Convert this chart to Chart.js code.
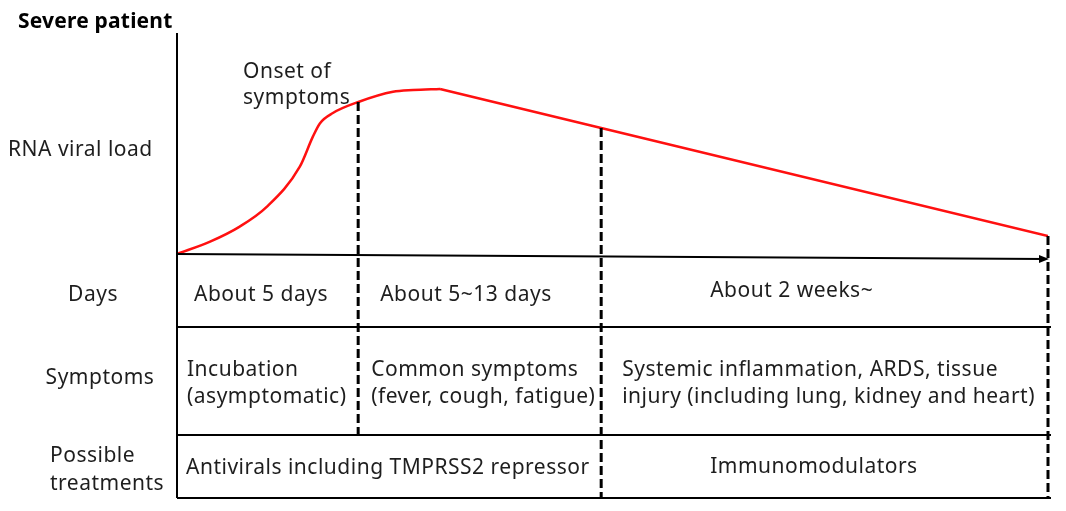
<!DOCTYPE html>
<html>
<head>
<meta charset="utf-8">
<script src="https://cdn.jsdelivr.net/npm/chart.js@4"></script>
<style>
html,body{margin:0;padding:0;background:#fff;}
#wrap{width:1066px;height:511px;}
</style>
</head>
<body>
<div id="wrap"><canvas id="c" width="1066" height="511"></canvas></div>
<script>
// ---- data ----
const chartTitle = "Severe patient";
const yLabel = "RNA viral load";
const onsetLabel = ["Onset of", "symptoms"];
// rising phase (smooth) up to the peak, then straight decline
const timePoints = [0, 3.8, 7.2, 10.3, 14.1, 15.6, 16.4, 17.9, 20.9, 24.8, 27.1, 30.2, 48.7, 100];
const viralLoad  = [0, 5.6, 12.4, 21.3, 39.5, 53.1, 59.1, 63.8, 68.9, 73.4, 74.2, 74.7, 57.0, 8.1];
const peakIndex = 11;
const phaseEnds = [20.8, 48.7, 100];
const rowLabels = [["Days"], ["Symptoms"], ["Possible", "treatments"]];
const dayTexts = [["About 5 days"], ["About 5~13 days"], ["About 2 weeks~"]];
const symptomTexts = [["Incubation", "(asymptomatic)"], ["Common symptoms", "(fever, cough, fatigue)"], ["Systemic inflammation, ARDS, tissue", "injury (including lung, kidney and heart)"]];
const treatmentTexts = [["Antivirals including TMPRSS2 repressor"], ["Immunomodulators"]];

const FONT = '"Noto Sans", "Open Sans", sans-serif';
const TXT = '#1e1e1e';

const diagramPlugin = {
  id: 'diagram',
  afterDatasetsDraw(chart) {
    const ctx = chart.ctx;
    const xs = chart.scales.x, ys = chart.scales.y;
    const left = xs.getPixelForValue(0);
    const right = xs.getPixelForValue(100);
    const top = ys.getPixelForValue(100);
    const base = ys.getPixelForValue(0);
    const rows = [base, 327, 435, 498];
    const bx = phaseEnds.map(v => xs.getPixelForValue(v));
    const interp = (v) => {
      for (let i = 1; i < timePoints.length; i++) {
        if (v <= timePoints[i]) {
          const t = (v - timePoints[i-1]) / (timePoints[i] - timePoints[i-1]);
          return viralLoad[i-1] + t * (viralLoad[i] - viralLoad[i-1]);
        }
      }
      return viralLoad[viralLoad.length-1];
    };
    ctx.save();
    // dashed phase lines
    ctx.strokeStyle = '#000';
    ctx.lineWidth = 3;
    ctx.setLineDash([9, 4]);
    const dashEnds = [rows[2], rows[3], rows[3]];
    bx.forEach((x, i) => {
      const y0 = ys.getPixelForValue(interp(phaseEnds[i]));
      ctx.beginPath();
      ctx.moveTo(x, y0);
      ctx.lineTo(x, dashEnds[i]);
      ctx.stroke();
    });
    ctx.setLineDash([]);
    // y axis
    ctx.lineWidth = 2;
    ctx.beginPath();
    ctx.moveTo(left, top);
    ctx.lineTo(left, rows[3]);
    ctx.stroke();
    // x axis arrow
    ctx.beginPath();
    ctx.moveTo(left, base);
    ctx.lineTo(right - 2, base + 5);
    ctx.stroke();
    ctx.fillStyle = '#000';
    ctx.beginPath();
    ctx.moveTo(right + 1, base + 5);
    ctx.lineTo(right - 9, base + 1);
    ctx.lineTo(right - 9, base + 9);
    ctx.closePath();
    ctx.fill();
    // table horizontal lines
    for (let r = 1; r < rows.length; r++) {
      ctx.beginPath();
      ctx.moveTo(left, rows[r]);
      ctx.lineTo(right + 3, rows[r]);
      ctx.stroke();
    }
    // texts
    ctx.textBaseline = 'middle';
    ctx.textAlign = 'left';
    ctx.font = 'bold 21px ' + FONT;
    ctx.letterSpacing = '0.2px';
    ctx.fillStyle = '#000';
    ctx.fillText(chartTitle, 18, 22);
    ctx.fillStyle = TXT;
    ctx.font = '21px ' + FONT;
    ctx.letterSpacing = '0.5px';
    ctx.fillText(yLabel, 8, 150);
    onsetLabel.forEach((s, i) => ctx.fillText(s, 243, 72 + i * 26));
    // row labels
    ctx.textAlign = 'center';
    ctx.fillText(rowLabels[0][0], 93, 295);
    ctx.fillText(rowLabels[1][0], 100, 378);
    ctx.textAlign = 'left';
    rowLabels[2].forEach((s, i) => ctx.fillText(s, 50, 456 + i * 28));
    // cells
    const colL = [left, bx[0], bx[1]];
    const dayOff = [17, 22, 109];
    dayTexts.forEach((l, c) => ctx.fillText(l[0], colL[c] + dayOff[c], c === 2 ? 291 : 295));
    const symOff = [10, 13, 21];
    symptomTexts.forEach((lines, c) => lines.forEach((s, i) => ctx.fillText(s, colL[c] + symOff[c], 370 + i * 27)));
    ctx.fillText(treatmentTexts[0][0], left + 9, 468);
    ctx.fillText(treatmentTexts[1][0], bx[1] + 109, 467);
    ctx.restore();
  }
};

const risePts = timePoints.slice(0, peakIndex + 1).map((t, i) => ({ x: t, y: viralLoad[i] }));
const fallPts = timePoints.slice(peakIndex).map((t, i) => ({ x: t, y: viralLoad[peakIndex + i] }));

new Chart(document.getElementById('c'), {
  type: 'line',
  data: {
    datasets: [{
      data: risePts,
      borderColor: '#ff1010',
      borderWidth: 2.5,
      pointRadius: 0,
      cubicInterpolationMode: 'monotone',
      fill: false
    }, {
      data: fallPts,
      borderColor: '#ff1010',
      borderWidth: 2.5,
      pointRadius: 0,
      tension: 0,
      fill: false
    }]
  },
  options: {
    responsive: false,
    animation: false,
    devicePixelRatio: 1,
    layout: { padding: { left: 177, right: 18, top: 33, bottom: 257 } },
    plugins: { legend: { display: false }, tooltip: { enabled: false } },
    scales: {
      x: { type: 'linear', min: 0, max: 100, display: false },
      y: { min: 0, max: 100, display: false }
    }
  },
  plugins: [diagramPlugin]
});
</script>
</body>
</html>
